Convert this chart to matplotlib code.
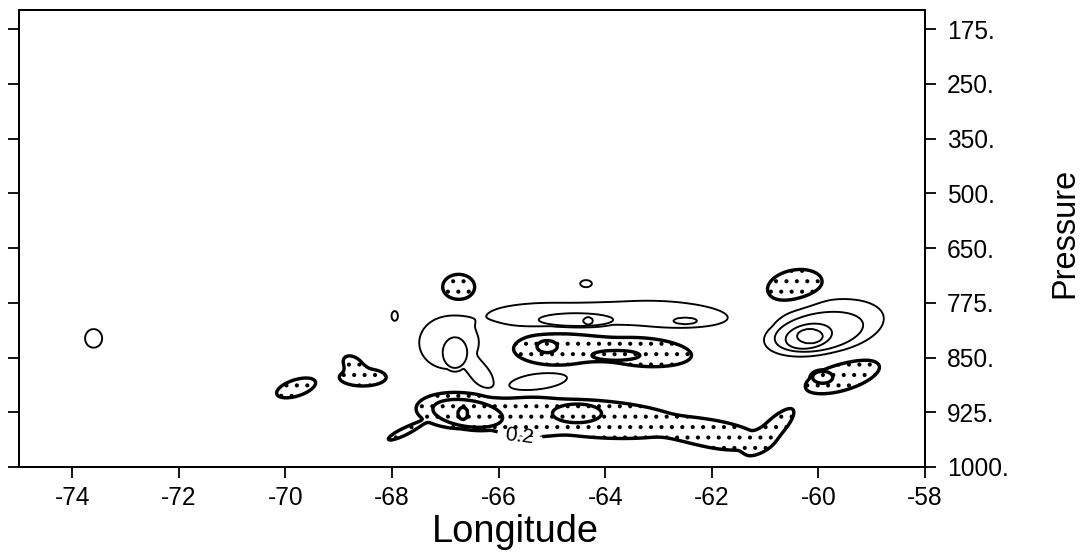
import numpy as np
import matplotlib
matplotlib.use('Agg')
import matplotlib.pyplot as plt

DPI = 125
PT = 72 / DPI          # points per output pixel

plt.rcParams['font.family'] = ['Liberation Sans', 'DejaVu Sans']
plt.rcParams['hatch.color'] = 'black'
plt.rcParams['hatch.linewidth'] = 2.0 * PT

pressure_labels = ['1000.', '925.', '850.', '775.', '650.', '500.', '350.', '250.', '175.']
lon_ticks = [-74, -72, -70, -68, -66, -64, -62, -60, -58]

# closed contours, one row per ellipse:
# centre lon, centre level (0 = 1000 hPa ... 8 = 175 hPa), contour value, half width (deg),
# half height (levels), tilt (deg)
cell_lon = [-73.60, -67.95, -66.93, -66.33, -66.82, -64.36, -65.00, -62.90, -64.55, -64.32, -62.50,
            -65.26, -59.84, -59.99, -60.18, -60.16,
            -69.80, -68.55, -68.72, -66.75, -60.44, -59.55, -59.92, -64.90, -63.30, -65.09, -63.80,
            -66.75, -64.20, -61.85, -60.88, -67.78, -65.50, -66.58, -66.67, -64.53]
cell_lev = [2.35, 2.76, 2.27, 1.68, 2.09, 3.35, 2.77, 2.79, 2.69, 2.67, 2.67,
            1.56, 2.56, 2.47, 2.39, 2.39,
            1.445, 1.64, 1.86, 3.29, 3.31, 1.65, 1.64, 2.16, 2.10, 2.20, 2.04,
            1.03, 0.88, 0.57, 0.66, 0.64, 0.88, 0.98, 0.98, 0.98]
cell_val = [0.2, 0.2, 0.2, 0.2, 0.4, 0.2, 0.2, 0.2, 0.4, 0.6, 0.4,
            0.2, 0.2, 0.4, 0.6, 0.8,
            -0.2, -0.2, -0.2, -0.2, -0.2, -0.2, -0.4, -0.2, -0.2, -0.4, -0.4,
            -0.2, -0.2, -0.2, -0.2, -0.2, -0.2, -0.4, -0.6, -0.4]
cell_hx = [0.16, 0.06, 0.56, 0.30, 0.23, 0.11, 1.20, 1.20, 0.70, 0.09, 0.22,
           0.55, 1.08, 0.84, 0.44, 0.24,
           0.38, 0.44, 0.22, 0.30, 0.52, 0.72, 0.19, 0.82, 0.92, 0.19, 0.45,
           0.80, 1.70, 0.80, 0.56, 0.32, 0.60, 0.66, 0.09, 0.46]
cell_hy = [0.17, 0.09, 0.48, 0.17, 0.28, 0.065, 0.23, 0.24, 0.12, 0.065, 0.06,
           0.15, 0.48, 0.34, 0.22, 0.13,
           0.15, 0.16, 0.14, 0.23, 0.29, 0.25, 0.11, 0.30, 0.26, 0.11, 0.09,
           0.33, 0.34, 0.24, 0.17, 0.065, 0.30, 0.24, 0.11, 0.17]
cell_tilt = [0, 0, 0, -50, 0, 0, 0, -3, 0, 0, 0,
             8, 10, 10, 10, 0,
             17, 0, -35, 0, 10, 16, 0, 0, -4, 0, 0,
             -3, -4, -8, 44, 25, 0, -8, 0, 0]

lon = np.linspace(-75, -58, 681)
lev = np.linspace(0, 8.35, 420)
LON, LEV = np.meshgrid(lon, lev)

# blend the ellipses of each contour value into one smooth outline
edge = np.exp(-0.5)
layers = {}
for x0, y0, val, hx, hy, t in zip(cell_lon, cell_lev, cell_val, cell_hx, cell_hy, cell_tilt):
    th = np.radians(t)
    dx = LON - x0
    dy = LEV - y0
    u = dx * np.cos(th) + dy * np.sin(th)
    v = -dx * np.sin(th) + dy * np.cos(th)
    q2 = (u / hx) ** 2 + (v / hy) ** 2
    layers[val] = layers.get(val, 0) + np.exp(-0.5 * q2 ** 2)

zpos = np.zeros_like(LON)
zneg = np.zeros_like(LON)
for val, s in layers.items():
    f = val * s / edge
    if val > 0:
        zpos = np.maximum(zpos, np.minimum(f, val + 0.1))
    else:
        zneg = np.minimum(zneg, np.maximum(f, val - 0.1))
Z = zpos + zneg

fig = plt.figure(figsize=(1081 / DPI, 554 / DPI), dpi=DPI)
ax = fig.add_axes([19 / 1081, 87 / 554, 906 / 1081, 457 / 554])

ax.contourf(LON, LEV, Z, levels=[Z.min() - 1, -0.2], colors='none', hatches=['..'])
ax.contour(LON, LEV, Z, levels=[0.2, 0.4, 0.6, 0.8], colors='k', linewidths=1.9 * PT)
ax.contour(LON, LEV, Z, levels=[-0.6, -0.4], colors='k', linewidths=3.4 * PT, linestyles='solid')
c02 = ax.contour(LON, LEV, Z, levels=[-0.2], colors='k', linewidths=3.4 * PT, linestyles='solid')
ax.clabel(c02, manual=[(-65.6, 0.6)], fmt={-0.2: '0.2'}, fontsize=21 * PT, inline=True,
          inline_spacing=8)

ax.set_xlim(-75, -58)
ax.set_ylim(0, 8.35)
ax.set_xticks(lon_ticks)
ax.set_xticklabels([str(t) for t in lon_ticks])
ax.set_yticks(range(len(pressure_labels)))
ax.set_yticklabels(pressure_labels)
ax.tick_params(axis='both', direction='out', length=11 * PT, width=1.8 * PT, labelsize=24.5 * PT)
ax.tick_params(axis='y', left=True, right=True, labelleft=False, labelright=True, pad=11 * PT)
ax.tick_params(axis='x', top=False, pad=8 * PT)
for s in ax.spines.values():
    s.set_linewidth(2.0 * PT)

fig.text(515 / 1081, 1 - 542 / 554, 'Longitude', fontsize=38 * PT, ha='center', va='baseline')
fig.text(1073 / 1081, 1 - 233 / 554, 'Pressure', fontsize=32.5 * PT, ha='center', va='baseline',
         rotation=90, rotation_mode='anchor')

fig.savefig('out.png', dpi=DPI)
